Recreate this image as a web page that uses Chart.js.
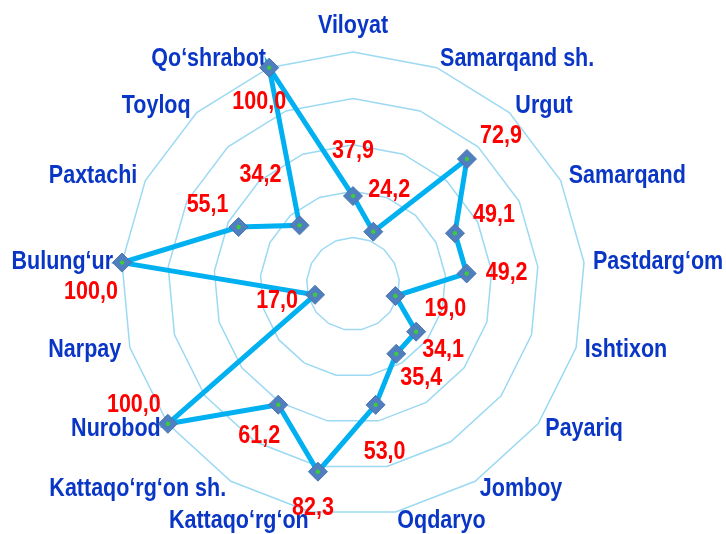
<!DOCTYPE html>
<html>
<head>
<meta charset="utf-8">
<script src="https://cdn.jsdelivr.net/npm/chart.js@4.4.1/dist/chart.umd.min.js"></script>
<style>
  body { margin: 0; background: #fff; }
  canvas { display: block; }
</style>
</head>
<body>
<canvas id="radarChart" width="726" height="534"></canvas>
<script>
// districts, clockwise from the top
const districts = [
  'Viloyat', 'Samarqand sh.', 'Urgut', 'Samarqand', 'Pastdarg‘om', 'Ishtixon',
  'Payariq', 'Jomboy', 'Oqdaryo', 'Kattaqo‘rg‘on', 'Kattaqo‘rg‘on sh.', 'Nurobod',
  'Narpay', 'Bulung‘ur', 'Paxtachi', 'Toyloq', 'Qo‘shrabot'
];
const shares = [37.9, 24.2, 72.9, 49.1, 49.2, 19.0, 34.1, 35.4, 53.0, 82.3, 61.2, 100.0, 17.0, 100.0, 55.1, 34.2, 100.0];

const scaleMin = 0;
const scaleMax = 100;
const scaleStep = 20;

// where each value label sits relative to its point (px)
const labelNudge = [
  [0, -45], [16, -42], [34, -23], [39, -18], [40, 0], [50, 13],
  [27, 18], [25, 24], [9, 47], [-5, 36], [-19, 31], [-34, -19],
  [-38, 6], [-31, 30], [-31, -22], [-39, -50], [-10, 34]
];

// no narrow face installed, so squeeze the regular bold one
const TEXT_FONT = 'bold 25px "Liberation Sans", Arial, sans-serif';
const SQUEEZE = 0.86;

function fmt(v) {
  return v.toFixed(1).replace('.', ',');
}

function narrowText(ctx, text, x, y, align) {
  ctx.save();
  ctx.translate(x, y);
  ctx.scale(SQUEEZE, 1);
  ctx.textAlign = align;
  ctx.textBaseline = 'middle';
  ctx.fillText(text, 0, 0);
  ctx.restore();
}

const radarText = {
  id: 'radarText',
  beforeDatasetsDraw(chart) {
    const ctx = chart.ctx;
    const scale = chart.scales.r;
    ctx.save();
    ctx.font = TEXT_FONT;
    ctx.fillStyle = '#0A36C6';
    districts.forEach((name, i) => {
      const p = scale.getPointPosition(i, scale.drawingArea + 9);
      const c = Math.cos(p.angle);
      if (Math.abs(c) < 0.05) {
        narrowText(ctx, name, p.x, p.y - 17, 'center');
      } else {
        narrowText(ctx, name, p.x, p.y, c > 0 ? 'left' : 'right');
      }
    });
    ctx.restore();
  },
  afterDatasetsDraw(chart) {
    const ctx = chart.ctx;
    const scale = chart.scales.r;
    ctx.save();
    ctx.font = TEXT_FONT;
    ctx.fillStyle = '#FF0000';
    shares.forEach((v, i) => {
      const p = scale.getPointPositionForValue(i, v);
      narrowText(ctx, fmt(v), p.x + labelNudge[i][0], p.y + labelNudge[i][1], 'center');
    });
    ctx.restore();
  }
};

new Chart(document.getElementById('radarChart'), {
  type: 'radar',
  data: {
    labels: districts,
    datasets: [
      {
        // small green centre on each marker (drawn on top)
        data: shares,
        showLine: false,
        fill: false,
        pointStyle: 'circle',
        pointRadius: 2.2,
        pointBackgroundColor: '#3CCB3C',
        pointBorderWidth: 0
      },
      {
        data: shares,
        borderColor: '#00B0F0',
        borderWidth: 5,
        fill: false,
        tension: 0,
        pointStyle: 'rectRot',
        pointRadius: 9.5,
        pointBackgroundColor: '#4F7FBE',
        pointBorderColor: '#4874AE',
        pointBorderWidth: 1
      }
    ]
  },
  options: {
    responsive: false,
    animation: false,
    layout: { padding: { top: 52, left: 121, right: 141, bottom: 18 } },
    plugins: {
      legend: { display: false },
      tooltip: { enabled: false }
    },
    scales: {
      r: {
        min: scaleMin,
        max: scaleMax,
        ticks: { display: false, stepSize: scaleStep },
        grid: { color: '#9CD9F2', lineWidth: 1.5 },
        angleLines: { display: false },
        pointLabels: { display: false }
      }
    }
  },
  plugins: [radarText]
});
</script>
</body>
</html>
